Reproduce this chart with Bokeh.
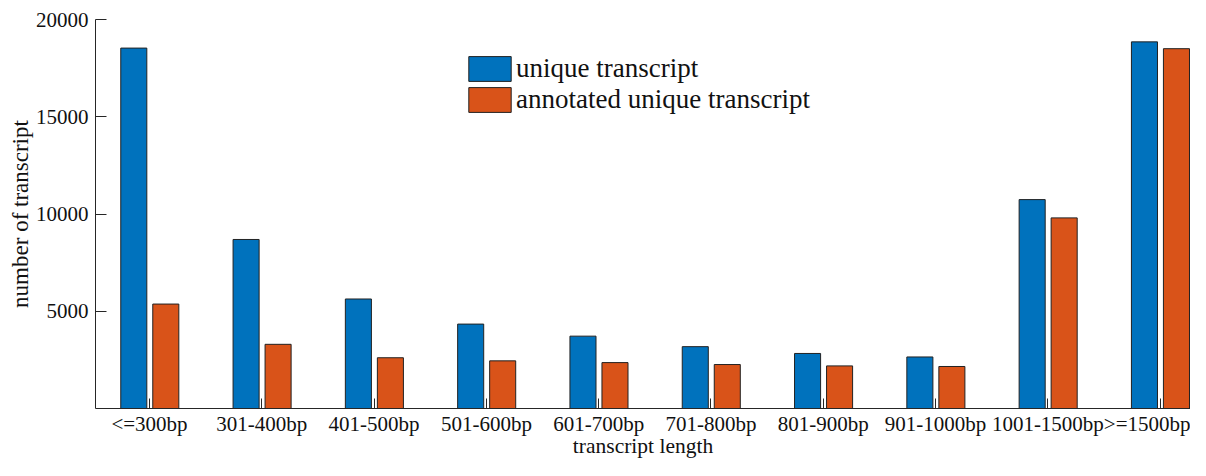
from bokeh.plotting import figure
from bokeh.models import ColumnDataSource, FixedTicker, Legend, LegendItem
from bokeh.transform import dodge
from bokeh.embed import file_html
from bokeh.resources import INLINE

categories = ["<=300bp", "301-400bp", "401-500bp", "501-600bp", "601-700bp",
              "701-800bp", "801-900bp", "901-1000bp", "1001-1500bp", ">=1500bp"]
unique_transcript = [18530, 8690, 5630, 4340, 3720, 3180, 2830, 2650, 10740, 18850]
annotated_unique = [5370, 3300, 2610, 2450, 2360, 2260, 2190, 2160, 9800, 18500]
y_ticks = [5000, 10000, 15000, 20000]

pos = list(range(1, len(categories) + 1))
src = ColumnDataSource(dict(x=pos, cat=categories, u=unique_transcript, a=annotated_unique))

FONT = "Liberation Serif"
BLUE = "#0072BD"
ORANGE = "#D95319"
AX = "#262626"

p = figure(width=1190, height=460, output_backend="svg", toolbar_location=None,
           x_range=(0.519, 10.27), y_range=(0, 20000),
           min_border_left=95, min_border_right=0, min_border_top=19, min_border_bottom=48)
p.outline_line_color = None
p.xgrid.grid_line_color = None
p.ygrid.grid_line_color = None

r1 = p.vbar(x=dodge("x", -0.14, range=p.x_range), top="u", width=0.232, bottom=0,
            source=src, fill_color=BLUE, line_color="#222222", line_width=1)
r2 = p.vbar(x=dodge("x", 0.145, range=p.x_range), top="a", width=0.232, bottom=0,
            source=src, fill_color=ORANGE, line_color="#222222", line_width=1)

# x axis
xa = p.xaxis[0]
xa.ticker = FixedTicker(ticks=pos)
xa.major_label_overrides = {i: c for i, c in zip(pos, categories)}
xa.major_tick_in = 10
xa.major_tick_out = 0
xa.minor_tick_line_color = None
xa.axis_line_color = AX
xa.major_tick_line_color = AX
xa.major_label_text_font = FONT
xa.major_label_text_font_size = "21px"
xa.major_label_text_color = "#111111"
xa.major_label_standoff = 3
xa.axis_label = "transcript length"
xa.axis_label_text_font = FONT
xa.axis_label_text_font_size = "21.5px"
xa.axis_label_text_font_style = "normal"
xa.axis_label_text_color = "#111111"
xa.axis_label_standoff = -5

# y axis
ya = p.yaxis[0]
ya.ticker = FixedTicker(ticks=y_ticks)
ya.major_tick_in = 11
ya.major_tick_out = 0
ya.minor_tick_line_color = None
ya.axis_line_color = AX
ya.major_tick_line_color = AX
ya.major_label_text_font = FONT
ya.major_label_text_font_size = "21px"
ya.major_label_text_color = "#111111"
ya.major_label_standoff = 7
ya.axis_label = "number of transcript"
ya.axis_label_text_font = FONT
ya.axis_label_text_font_size = "23px"
ya.axis_label_text_font_style = "normal"
ya.axis_label_text_color = "#111111"
ya.axis_label_standoff = 0

legend = Legend(items=[LegendItem(label="unique transcript", renderers=[r1]),
                       LegendItem(label="annotated unique transcript", renderers=[r2])],
                location=(368, 293), orientation="vertical",
                glyph_width=53, glyph_height=31, label_height=31, spacing=0,
                label_standoff=0, padding=0, margin=0,
                label_text_font=FONT, label_text_font_size="27px",
                label_text_color="#111111",
                border_line_color=None, background_fill_alpha=0)
p.add_layout(legend)

open("out.html", "w").write(file_html(p, INLINE))
